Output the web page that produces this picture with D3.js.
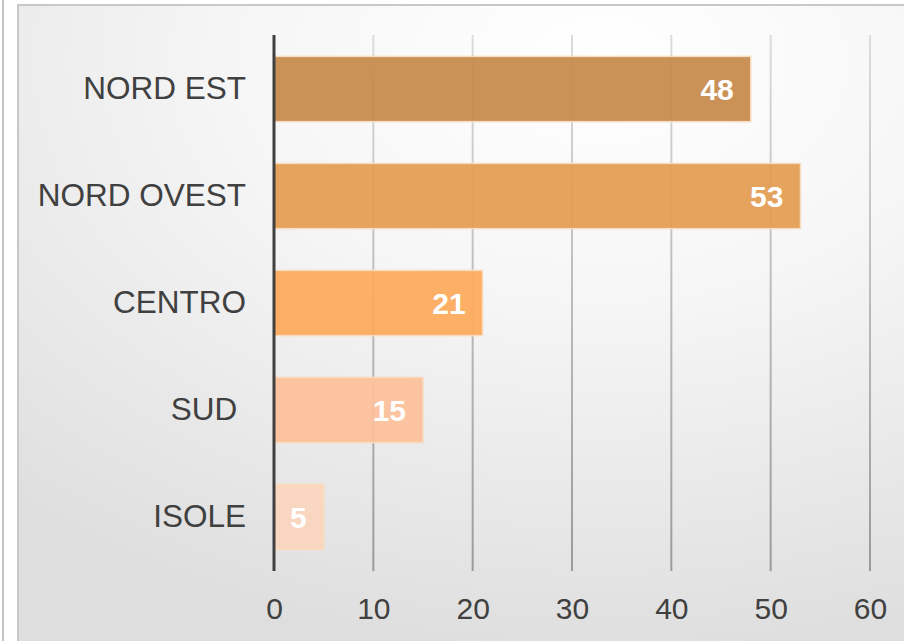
<!DOCTYPE html>
<html>
<head>
<meta charset="utf-8">
<script src="https://cdn.jsdelivr.net/npm/d3@7"></script>
<style>
  html, body { margin: 0; padding: 0; background: #fff; }
  svg { display: block; font-family: "Liberation Sans", Arial, sans-serif; }
</style>
</head>
<body>
<div id="chart"></div>
<script>
// chart values
var regions = ["NORD EST", "NORD OVEST", "CENTRO", "SUD ", "ISOLE"];
var counts = [48, 53, 21, 15, 5];
var barColors = ["#c78a4b", "#e39c52", "#fdaa59", "#fcc09a", "#fbd5bc"];
var xTicks = [0, 10, 20, 30, 40, 50, 60];

var width = 904, height = 641;
var margin = { top: 35, right: 34, bottom: 70, left: 274 };

var svg = d3.select("#chart").append("svg")
    .attr("width", width)
    .attr("height", height);

// background gradient of the chart frame (wide ellipse, light at the top)
var defs = svg.append("defs");
var grad = defs.append("radialGradient")
    .attr("id", "bg")
    .attr("gradientUnits", "userSpaceOnUse")
    .attr("cx", 0).attr("cy", 0).attr("r", 600)
    .attr("gradientTransform", "translate(600,60) scale(1.5,1)");
grad.append("stop").attr("offset", "0%").attr("stop-color", "#ffffff");
grad.append("stop").attr("offset", "40%").attr("stop-color", "#f6f6f6");
grad.append("stop").attr("offset", "100%").attr("stop-color", "#dedede");

var gridGrad = defs.append("linearGradient")
    .attr("id", "gridGrad")
    .attr("gradientUnits", "userSpaceOnUse")
    .attr("x1", 0).attr("y1", margin.top).attr("x2", 0).attr("y2", height - margin.bottom);
gridGrad.append("stop").attr("offset", "0%").attr("stop-color", "#dcdcdc");
gridGrad.append("stop").attr("offset", "100%").attr("stop-color", "#9a9a9a");

// thin edge of a neighbouring frame on the left
svg.append("line")
    .attr("x1", 3).attr("x2", 3).attr("y1", 0).attr("y2", height)
    .attr("stroke", "#c4c4c4").attr("stroke-width", 2);

svg.append("rect")
    .attr("x", 18).attr("y", 5)
    .attr("width", width + 10).attr("height", height + 10)
    .attr("fill", "url(#bg)")
    .attr("stroke", "#c8c8c8")
    .attr("stroke-width", 2);

var xScale = d3.scaleLinear()
    .domain([0, 60])
    .range([margin.left, width - margin.right]);

var yScale = d3.scaleBand()
    .domain(regions)
    .range([margin.top, height - margin.bottom])
    .paddingInner(0.39)
    .paddingOuter(0.2);

// vertical gridlines
svg.append("g")
    .selectAll("line")
    .data(xTicks.slice(1))
    .enter().append("line")
    .attr("x1", function (d) { return xScale(d); })
    .attr("x2", function (d) { return xScale(d); })
    .attr("y1", margin.top)
    .attr("y2", height - margin.bottom)
    .attr("stroke", "url(#gridGrad)")
    .attr("stroke-width", 2);

// bars
svg.append("g")
    .selectAll("rect")
    .data(regions)
    .enter().append("rect")
    .attr("x", xScale(0))
    .attr("y", function (d) { return yScale(d); })
    .attr("width", function (d, i) { return xScale(counts[i]) - xScale(0); })
    .attr("height", yScale.bandwidth())
    .attr("fill", function (d, i) { return barColors[i]; })
    .attr("fill-opacity", 0.93)
    .attr("stroke", "#f7dcc0")
    .attr("stroke-width", 1.5);

// value labels
svg.append("g")
    .selectAll("text")
    .data(regions)
    .enter().append("text")
    .attr("x", function (d, i) { return xScale(counts[i]) - 17; })
    .attr("y", function (d) { return yScale(d) + yScale.bandwidth() / 2; })
    .attr("dy", "0.36em")
    .attr("text-anchor", "end")
    .attr("fill", "#ffffff")
    .attr("font-weight", "bold")
    .attr("font-size", 30)
    .text(function (d, i) { return counts[i]; });

// y axis (category labels + zero line)
var yAxis = svg.append("g")
    .attr("transform", "translate(" + margin.left + ",0)")
    .call(d3.axisLeft(yScale).tickSize(0).tickPadding(28));
yAxis.select(".domain").remove();
yAxis.selectAll("text")
    .attr("font-size", 31.5)
    .attr("fill", "#404040")
    .style("white-space", "pre")
    .attr("font-family", "'Liberation Sans', Arial, sans-serif");

svg.append("line")
    .attr("x1", xScale(0)).attr("x2", xScale(0))
    .attr("y1", margin.top).attr("y2", height - margin.bottom)
    .attr("stroke", "#404040")
    .attr("stroke-width", 3);

// x axis labels
var xAxis = svg.append("g")
    .attr("transform", "translate(0," + (height - margin.bottom) + ")")
    .call(d3.axisBottom(xScale).tickValues(xTicks).tickSize(0).tickPadding(27));
xAxis.select(".domain").remove();
xAxis.selectAll("text")
    .attr("font-size", 30)
    .attr("fill", "#404040")
    .attr("font-family", "'Liberation Sans', Arial, sans-serif");
</script>
</body>
</html>
